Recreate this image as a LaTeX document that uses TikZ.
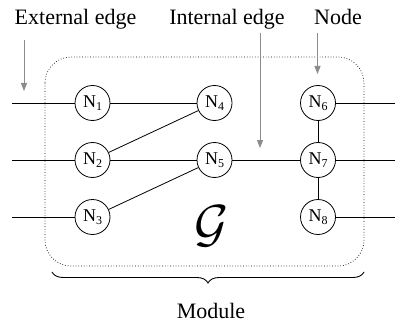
\documentclass[tikz,border=0pt]{standalone}
\usepackage{fontspec}
\setmainfont{Liberation Serif}
\usetikzlibrary{decorations.pathreplacing,arrows.meta}
\begin{document}
\begin{tikzpicture}[x=1pt,y=-1pt,
  nd/.style={draw,circle,minimum size=35pt,inner sep=0pt,line width=0.8pt,font=\fontsize{18}{18}\selectfont},
  lbl/.style={anchor=base,font=\fontsize{22}{22}\selectfont},
  edge/.style={line width=0.8pt},
  pointer/.style={draw=gray!90,line width=1pt,-{Triangle[length=8pt,width=6pt]}}]
\useasboundingbox (0,0) rectangle (395,323);
% module box
\draw[dotted,line width=0.7pt,rounded corners=26pt] (45,57) rectangle (364,266);
% nodes
\newcommand{\nsub}[1]{N\raisebox{-0.4ex}{\fontsize{12}{12}\selectfont #1}}
\node[nd] (n1) at (92.5,103) {\nsub{1}};
\node[nd] (n2) at (92.5,160) {\nsub{2}};
\node[nd] (n3) at (92.5,217) {\nsub{3}};
\node[nd] (n4) at (214.5,103) {\nsub{4}};
\node[nd] (n5) at (214.5,160) {\nsub{5}};
\node[nd] (n6) at (318,103) {\nsub{6}};
\node[nd] (n7) at (318,160) {\nsub{7}};
\node[nd] (n8) at (318,217) {\nsub{8}};
% external edge ends
\coordinate (l1) at (12,103);
\coordinate (l2) at (12,160);
\coordinate (l3) at (12,217);
\coordinate (r1) at (395,103);
\coordinate (r2) at (395,160);
\coordinate (r3) at (395,217);
\draw[edge] (l1) -- (n1);
\draw[edge] (l2) -- (n2);
\draw[edge] (l3) -- (n3);
\draw[edge] (n6) -- (r1);
\draw[edge] (n7) -- (r2);
\draw[edge] (n8) -- (r3);
% internal edges
\draw[edge] (n1) -- (n4);
\draw[edge] (n2) -- (n4);
\draw[edge] (n2) -- (n5);
\draw[edge] (n3) -- (n5);
\draw[edge] (n5) -- (n7);
\draw[edge] (n6) -- (n7);
\draw[edge] (n7) -- (n8);
% labels
\node[lbl] (ext) at (75.5,25) {External edge};
\node[lbl] (int) at (227,25) {Internal edge};
\node[lbl] (nod) at (338,25) {Node};
\coordinate (a1s) at (24,40);  \coordinate (a1e) at (24,91);
\coordinate (a2s) at (260,33); \coordinate (a2e) at (260,148);
\coordinate (a3s) at (317.5,33); \coordinate (a3e) at (317.5,74);
\draw[pointer] (a1s) -- (a1e);
\draw[pointer] (a2s) -- (a2e);
\draw[pointer] (a3s) -- (a3e);
% G
\node[scale=2.1] (g) at (212,226) {\fontsize{24.88}{24.88}\selectfont$\mathcal{G}$};
% brace
\coordinate (bl) at (52,272);
\coordinate (br) at (364,272);
\draw[line width=0.9pt,decorate,decoration={brace,amplitude=11pt,mirror}] (bl) -- (br);
\node[lbl] (mod) at (211,318) {Module};
\end{tikzpicture}
\end{document}
